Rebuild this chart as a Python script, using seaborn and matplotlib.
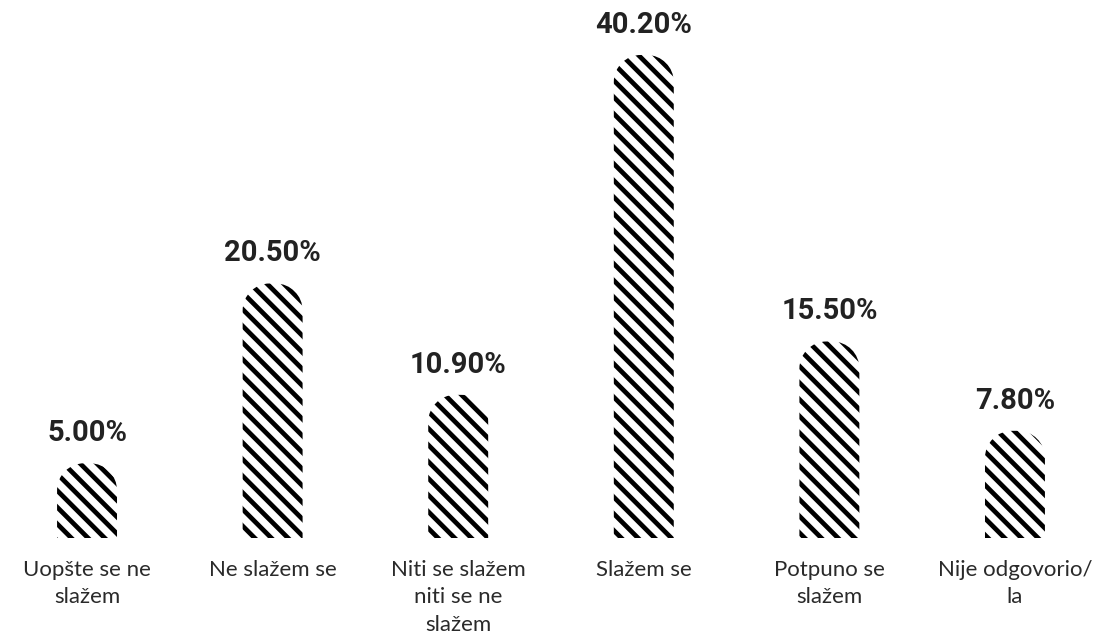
import numpy as np
import pandas as pd
import seaborn as sns
import matplotlib
matplotlib.use("Agg")
import matplotlib.pyplot as plt
from matplotlib.path import Path
from matplotlib.patches import PathPatch

categories = [
    "Uopšte se ne\nslažem",
    "Ne slažem se",
    "Niti se slažem\nniti se ne\nslažem",
    "Slažem se",
    "Potpuno se\nslažem",
    "Nije odgovorio/\nla",
]
values = [5.00, 20.50, 10.90, 40.20, 15.50, 7.80]

df = pd.DataFrame({"category": categories, "value": values})

sns.set_theme(style="white")
plt.rcParams["hatch.linewidth"] = 3.4

W, H, DPI = 1102, 641, 100
fig = plt.figure(figsize=(W / DPI, H / DPI), dpi=DPI)
ax_bottom_px = 103
ax_height_px = H - ax_bottom_px
ax = fig.add_axes([0, ax_bottom_px / H, 1, ax_height_px / H])

sns.barplot(data=df, x="category", y="value", ax=ax, width=0.323,
            color="white", edgecolor="black", linewidth=0, saturation=1)

x_lo, x_hi = -0.469, 5.469
px_per_y = 11.6
y_hi = ax_height_px / px_per_y
ax.set_xlim(x_lo, x_hi)
ax.set_ylim(0, y_hi)
px_per_x = W / (x_hi - x_lo)

cap_px = 16.7          # rounded cap sitting on top of each bar
radius_px = 27
cap = cap_px / px_per_y
rx = radius_px / px_per_x
ry = radius_px / px_per_y
k = 0.5523

bars = list(ax.patches)
for bar in bars:
    x0 = bar.get_x()
    x1 = x0 + bar.get_width()
    top = bar.get_height() + cap
    verts = [
        (x0, 0), (x0, top - ry),
        (x0, top - ry + k * ry), (x0 + rx - k * rx, top), (x0 + rx, top),
        (x1 - rx, top),
        (x1 - rx + k * rx, top), (x1, top - ry + k * ry), (x1, top - ry),
        (x1, 0), (x0, 0),
    ]
    codes = [Path.MOVETO, Path.LINETO,
             Path.CURVE4, Path.CURVE4, Path.CURVE4,
             Path.LINETO,
             Path.CURVE4, Path.CURVE4, Path.CURVE4,
             Path.LINETO, Path.CLOSEPOLY]
    shape = PathPatch(Path(verts, codes), facecolor="white", edgecolor="black",
                      linewidth=0, hatch="\\\\")
    ax.add_patch(shape)
    bar.set_visible(False)
    ax.annotate(f"{bar.get_height():.2f}%",
                xy=(x0 + bar.get_width() / 2, top), xytext=(0, 16),
                textcoords="offset points", ha="center", va="baseline",
                fontsize=21, fontweight="bold", family=["Roboto", "DejaVu Sans"],
                color="#222222")

ax.set_xlabel("")
ax.set_ylabel("")
ax.set_yticks([])
ax.tick_params(axis="x", length=0, pad=16)
for lbl in ax.get_xticklabels():
    lbl.set_fontsize(16)
    lbl.set_family(["Lato", "DejaVu Sans"])
    lbl.set_fontweight("normal")
    lbl.set_color("#2a2a2a")
    lbl.set_linespacing(1.45)
    lbl.set_verticalalignment("top")
sns.despine(ax=ax, left=True, bottom=True)

fig.savefig("out.png", dpi=DPI)
